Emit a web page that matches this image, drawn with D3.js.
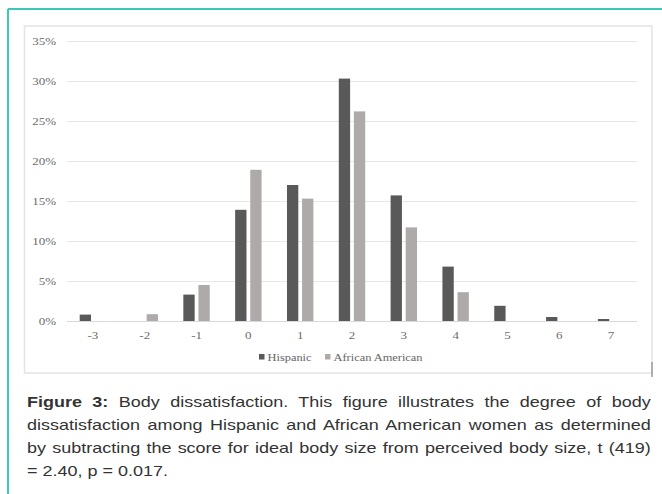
<!DOCTYPE html>
<html lang="en">
<head>
<meta charset="UTF-8">
<title>Body dissatisfaction</title>
<script src="https://d3js.org/d3.v7.min.js"></script>
<style>
  body { margin: 0; background: #fff; }
  #wrap { position: relative; width: 662px; height: 494px; overflow: hidden; }
  svg { position: absolute; left: 0; top: 0; }
  .cap { position: absolute; left: 27px; width: 503px; font-family: "Liberation Sans", Arial, sans-serif;
         font-size: 14.5px; line-height: 23px; color: #333; text-align: justify; text-align-last: justify;
         transform: scale(1.24, 1); transform-origin: 0 0; white-space: nowrap; }
  .cap.last { text-align-last: left; }
</style>
</head>
<body>
<div id="wrap"></div>
<script>
  // values (percent of each group)
  var categories = ['-3', '-2', '-1', '0', '1', '2', '3', '4', '5', '6', '7'];
  var hispanic = [0.8, 0, 3.3, 13.9, 17.0, 30.3, 15.7, 6.8, 1.9, 0.5, 0.25];
  var africanAmerican = [0, 0.85, 4.5, 18.9, 15.3, 26.2, 11.7, 3.6, 0, 0, 0];
  var seriesNames = ['Hispanic', 'African American'];
  var yTicks = [0, 5, 10, 15, 20, 25, 30, 35];
  var captionLines = [
    '<b>Figure 3:</b> Body dissatisfaction. This figure illustrates the degree of body',
    'dissatisfaction among Hispanic and African American women as determined',
    'by subtracting the score for ideal body size from perceived body size, t (419)',
    '= 2.40, p = 0.017.'
  ];

  var w = 662, h = 494;
  var sx = 1.24; // picture is stretched sideways
  var colors = ['#595959', '#aeaaaa'];
  var serif = '"Liberation Serif", "Times New Roman", serif';

  var wrap = d3.select('#wrap');
  var svg = wrap.append('svg').attr('width', w).attr('height', h);

  // frame
  svg.append('line').attr('x1', 8).attr('y1', 9).attr('x2', w).attr('y2', 9)
    .attr('stroke', '#3cc8b2').attr('stroke-width', 2);
  svg.append('line').attr('x1', 8).attr('y1', 9).attr('x2', 8).attr('y2', h)
    .attr('stroke', '#3cc8b2').attr('stroke-width', 2);

  svg.append('rect').attr('x', 24.5).attr('y', 26).attr('width', 627.5).attr('height', 347)
    .attr('fill', '#fff').attr('stroke', '#e4e4e4').attr('stroke-width', 1.5);
  svg.append('line').attr('x1', 652).attr('y1', 362).attr('x2', 652).attr('y2', 377)
    .attr('stroke', '#999').attr('stroke-width', 1.5);

  var plotL = 67, plotR = 637, plotT = 41, plotB = 321;

  var y = d3.scaleLinear().domain([0, 35]).range([plotB, plotT]);
  var x0 = d3.scaleBand().domain(categories).range([plotL, plotR])
    .paddingInner(0.49).paddingOuter(0.245);
  var x1 = d3.scaleBand().domain(seriesNames).range([0, x0.bandwidth()]).paddingInner(0.25);

  // grid + y labels
  var yAxis = svg.append('g').attr('transform', 'translate(' + plotL + ',0)')
    .call(d3.axisLeft(y).tickValues(yTicks).tickSize(-(plotR - plotL)).tickFormat(function(d) { return d + '%'; }));
  yAxis.select('.domain').remove();
  yAxis.selectAll('.tick line').attr('stroke', function(d) { return d === 0 ? '#d9d9d9' : '#e8e8e8'; });
  yAxis.selectAll('.tick text')
    .attr('x', 0).attr('dy', '0.35em')
    .attr('transform', 'translate(-11,0) scale(' + sx + ',1)')
    .attr('font-family', serif).attr('font-size', 10.5).attr('fill', '#6b6b6b');

  // x labels
  var xAxis = svg.append('g').attr('transform', 'translate(0,' + plotB + ')')
    .call(d3.axisBottom(x0).tickSize(0));
  xAxis.select('.domain').remove();
  xAxis.selectAll('.tick text')
    .attr('y', 0).attr('dy', 0)
    .attr('transform', 'translate(0,18) scale(' + sx + ',1)')
    .attr('font-family', serif).attr('font-size', 10.5).attr('fill', '#6b6b6b');

  // bars
  var table = categories.map(function(c, i) {
    return { cat: c, values: [hispanic[i], africanAmerican[i]] };
  });
  var groups = svg.selectAll('g.grp').data(table).enter().append('g').attr('class', 'grp')
    .attr('transform', function(d) { return 'translate(' + x0(d.cat) + ',0)'; });
  groups.selectAll('rect').data(function(d) {
    return d.values.map(function(v, j) { return { name: seriesNames[j], v: v, j: j }; })
      .filter(function(d) { return d.v > 0; });
  }).enter().append('rect')
    .attr('x', function(d) { return x1(d.name); })
    .attr('y', function(d) { return y(d.v); })
    .attr('width', x1.bandwidth())
    .attr('height', function(d) { return plotB - y(d.v); })
    .attr('fill', function(d) { return colors[d.j]; });

  // legend
  var legX = [259, 325];
  var leg = svg.selectAll('g.leg').data(seriesNames).enter().append('g').attr('class', 'leg')
    .attr('transform', function(d, i) { return 'translate(' + legX[i] + ',357)'; });
  leg.append('rect').attr('x', 0).attr('y', -3).attr('width', 5.5).attr('height', 5.5)
    .attr('fill', function(d, i) { return colors[i]; });
  leg.append('text').text(function(d) { return d; })
    .attr('transform', 'translate(8.5,3.5) scale(' + sx + ',1)')
    .attr('font-family', serif).attr('font-size', 10).attr('fill', '#666');

  // caption
  wrap.selectAll('div.cap').data(captionLines).enter().append('div')
    .attr('class', function(d, i) { return i === captionLines.length - 1 ? 'cap last' : 'cap'; })
    .style('top', function(d, i) { return (391 + i * 23) + 'px'; })
    .html(function(d) { return d; });
</script>
</body>
</html>
